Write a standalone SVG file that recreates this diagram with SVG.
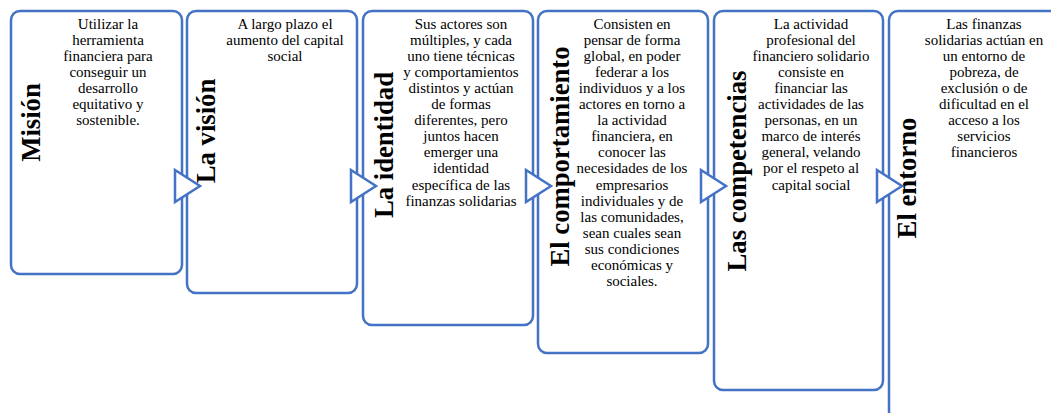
<svg xmlns="http://www.w3.org/2000/svg" width="1051" height="413" viewBox="0 0 1051 413">
<style>
.box{fill:#fff;stroke:#4472C4;stroke-width:2.5}
.arr{fill:#fff;stroke:#4472C4;stroke-width:2.5;stroke-linejoin:miter}
.title{font-family:"Liberation Serif","Times New Roman",serif;font-weight:bold;font-size:26.7px;fill:#000;text-anchor:middle}
.body{font-family:"Liberation Serif","Times New Roman",serif;font-size:15px;fill:#000;text-anchor:middle}
</style>
<rect width="1051" height="413" fill="#fff"/>
<g id="n1">
<rect class="box" x="11" y="11" width="171" height="263" rx="9"/>
<text class="title" transform="translate(40,122.5) rotate(-90)">Misión</text>
<text class="body" x="108" y="28.5"><tspan x="108">Utilizar la</tspan><tspan x="108" dy="16.1">herramienta</tspan><tspan x="108" dy="16.1">financiera para</tspan><tspan x="108" dy="16.1">conseguir un</tspan><tspan x="108" dy="16.1">desarrollo</tspan><tspan x="108" dy="16.1">equitativo y</tspan><tspan x="108" dy="16.1">sostenible.</tspan></text>
</g>
<g id="n2">
<rect class="box" x="187" y="11" width="170" height="282" rx="9"/>
<text class="title" transform="translate(215,131) rotate(-90)">La visión</text>
<text class="body" x="285" y="28.5"><tspan x="285">A largo plazo el</tspan><tspan x="285" dy="16.1">aumento del capital</tspan><tspan x="285" dy="16.1">social</tspan></text>
</g>
<g id="n3">
<rect class="box" x="363" y="11" width="170" height="314" rx="9"/>
<text class="title" transform="translate(393,145) rotate(-90)">La identidad</text>
<text class="body" x="461" y="28.5"><tspan x="461">Sus actores son</tspan><tspan x="461" dy="16.1">múltiples, y cada</tspan><tspan x="461" dy="16.1">uno tiene técnicas</tspan><tspan x="461" dy="16.1">y comportamientos</tspan><tspan x="461" dy="16.1">distintos y actúan</tspan><tspan x="461" dy="16.1">de formas</tspan><tspan x="461" dy="16.1">diferentes, pero</tspan><tspan x="461" dy="16.1">juntos hacen</tspan><tspan x="461" dy="16.1">emerger una</tspan><tspan x="461" dy="16.1">identidad</tspan><tspan x="461" dy="16.1">específica de las</tspan><tspan x="461" dy="16.1">finanzas solidarias</tspan></text>
</g>
<g id="n4">
<rect class="box" x="538" y="11" width="170" height="342" rx="9"/>
<text class="title" transform="translate(569,156.5) rotate(-90)">El comportamiento</text>
<text class="body" x="632" y="28.5"><tspan x="632">Consisten en</tspan><tspan x="632" dy="16.1">pensar de forma</tspan><tspan x="632" dy="16.1">global, en poder</tspan><tspan x="632" dy="16.1">federar a los</tspan><tspan x="632" dy="16.1">individuos y a los</tspan><tspan x="632" dy="16.1">actores en torno a</tspan><tspan x="632" dy="16.1">la actividad</tspan><tspan x="632" dy="16.1">financiera, en</tspan><tspan x="632" dy="16.1">conocer las</tspan><tspan x="632" dy="16.1">necesidades de los</tspan><tspan x="632" dy="16.1">empresarios</tspan><tspan x="632" dy="16.1">individuales y de</tspan><tspan x="632" dy="16.1">las comunidades,</tspan><tspan x="632" dy="16.1">sean cuales sean</tspan><tspan x="632" dy="16.1">sus condiciones</tspan><tspan x="632" dy="16.1">económicas y</tspan><tspan x="632" dy="16.1">sociales.</tspan></text>
</g>
<g id="n5">
<rect class="box" x="714" y="11" width="169" height="379" rx="9"/>
<text class="title" transform="translate(746,171) rotate(-90)">Las competencias</text>
<text class="body" x="811" y="28.5"><tspan x="811">La actividad</tspan><tspan x="811" dy="16.1">profesional del</tspan><tspan x="811" dy="16.1">financiero solidario</tspan><tspan x="811" dy="16.1">consiste en</tspan><tspan x="811" dy="16.1">financiar las</tspan><tspan x="811" dy="16.1">actividades de las</tspan><tspan x="811" dy="16.1">personas, en un</tspan><tspan x="811" dy="16.1">marco de interés</tspan><tspan x="811" dy="16.1">general, velando</tspan><tspan x="811" dy="16.1">por el respeto al</tspan><tspan x="811" dy="16.1">capital social</tspan></text>
</g>
<g id="n6">
<rect class="box" x="889" y="11" width="175" height="410" rx="9"/>
<text class="title" transform="translate(916,178) rotate(-90)">El entorno</text>
<text class="body" x="984" y="28.5"><tspan x="984">Las finanzas</tspan><tspan x="984" dy="16.1">solidarias actúan en</tspan><tspan x="984" dy="16.1">un entorno de</tspan><tspan x="984" dy="16.1">pobreza, de</tspan><tspan x="984" dy="16.1">exclusión o de</tspan><tspan x="984" dy="16.1">dificultad en el</tspan><tspan x="984" dy="16.1">acceso a los</tspan><tspan x="984" dy="16.1">servicios</tspan><tspan x="984" dy="16.1">financieros</tspan></text>
</g>
<g id="connectors">
<polygon class="arr" points="175,170 200,186 175,202"/>
<polygon class="arr" points="351,170 376,186 351,202"/>
<polygon class="arr" points="526,170 551,186 526,202"/>
<polygon class="arr" points="701,170 726,186 701,202"/>
<polygon class="arr" points="877,170 902,186 877,202"/>
</g>
</svg>
